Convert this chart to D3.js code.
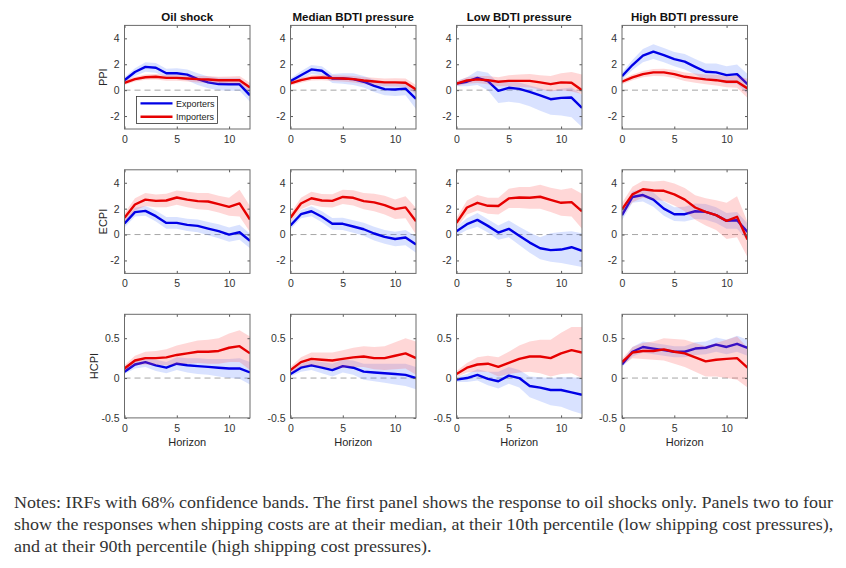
<!DOCTYPE html>
<html>

<head>
  <meta charset='utf-8'>
  <style>
    body { margin: 0; background: #fff; }
    text { font-family: 'Liberation Sans', Arial, sans-serif; }
  </style>
  <script src='https://cdn.jsdelivr.net/npm/d3@7'></script>
</head>

<body>

  <script>

    let [width, height] = [846, 568]

    // horizons and panel labels
    const horizon = [0, 1, 2, 3, 4, 5, 6, 7, 8, 9, 10, 11, 12]
    const titles = ['Oil shock', 'Median BDTI pressure', 'Low BDTI pressure', 'High BDTI pressure']
    const rowLabels = ['PPI', 'ECPI', 'HCPI']
    const xTicks = [0, 5, 10]
    const yTicksBig = [-2, 0, 2, 4]
    const yTicksSmall = [-0.5, 0, 0.5]
    const legendLabels = ['Exporters', 'Importers']

    // ---- PPI ----
    const ppiOilExp = [0.77, 1.4, 1.8, 1.73, 1.3, 1.3, 1.2, 0.85, 0.6, 0.47, 0.45, 0.45, -0.4]
    const ppiOilExpLo = [0.55, 1.1, 1.42, 1.35, 0.95, 0.9, 0.75, 0.4, 0.15, 0.0, -0.05, -0.05, -0.9]
    const ppiOilExpHi = [1.0, 1.7, 2.15, 2.1, 1.65, 1.7, 1.6, 1.3, 1.05, 0.95, 0.95, 0.95, 0.1]
    const ppiOilImp = [0.57, 0.85, 1.0, 1.03, 0.95, 0.95, 0.9, 0.85, 0.82, 0.77, 0.77, 0.77, 0.2]
    const ppiOilImpLo = [0.4, 0.67, 0.8, 0.82, 0.73, 0.72, 0.66, 0.6, 0.55, 0.5, 0.48, 0.45, -0.15]
    const ppiOilImpHi = [0.74, 1.03, 1.2, 1.24, 1.17, 1.18, 1.14, 1.1, 1.09, 1.04, 1.06, 1.09, 0.55]

    const ppiMedExp = [0.7, 1.15, 1.6, 1.5, 0.9, 0.9, 0.85, 0.65, 0.33, 0.08, 0.05, 0.12, -0.67]
    const ppiMedExpLo = [0.5, 0.85, 1.25, 1.15, 0.55, 0.5, 0.4, 0.2, -0.15, -0.4, -0.45, -0.4, -1.45]
    const ppiMedExpHi = [0.9, 1.45, 1.95, 1.85, 1.25, 1.3, 1.3, 1.1, 0.8, 0.55, 0.55, 0.65, 0.1]
    const ppiMedImp = [0.52, 0.77, 0.95, 0.98, 0.93, 0.9, 0.85, 0.75, 0.67, 0.6, 0.6, 0.57, 0.05]
    const ppiMedImpLo = [0.35, 0.58, 0.75, 0.77, 0.7, 0.66, 0.6, 0.48, 0.38, 0.3, 0.28, 0.24, -0.3]
    const ppiMedImpHi = [0.69, 0.96, 1.15, 1.19, 1.16, 1.14, 1.1, 1.02, 0.96, 0.9, 0.92, 0.9, 0.4]

    const ppiLowExp = [0.5, 0.65, 0.95, 0.7, -0.05, 0.18, 0.1, -0.13, -0.4, -0.7, -0.6, -0.57, -1.37]
    const ppiLowExpLo = [0.3, 0.3, 0.4, 0.0, -1.0, -0.9, -1.0, -1.25, -1.6, -1.9, -1.95, -2.1, -2.85]
    const ppiLowExpHi = [0.7, 1.0, 1.5, 1.35, 0.55, 0.7, 0.6, 0.35, 0.15, -0.05, 0.1, 0.2, -0.35]
    const ppiLowImp = [0.5, 0.75, 0.83, 0.77, 0.65, 0.72, 0.72, 0.72, 0.6, 0.47, 0.6, 0.57, 0.0]
    const ppiLowImpLo = [0.32, 0.5, 0.55, 0.45, 0.3, 0.3, 0.25, 0.2, 0.05, -0.1, 0.0, -0.1, -0.3]
    const ppiLowImpHi = [0.68, 1.0, 1.1, 1.1, 1.0, 1.15, 1.2, 1.25, 1.15, 1.1, 1.3, 1.4, 1.2]

    const ppiHighExp = [1.08, 1.94, 2.66, 2.97, 2.7, 2.4, 2.2, 1.8, 1.42, 1.37, 1.16, 1.24, 0.46]
    const ppiHighExpLo = [0.8, 1.55, 2.15, 2.4, 2.15, 1.85, 1.6, 1.2, 0.8, 0.7, 0.5, 0.5, -0.3]
    const ppiHighExpHi = [1.36, 2.33, 3.17, 3.55, 3.25, 2.95, 2.8, 2.4, 2.05, 2.05, 1.85, 1.98, 1.25]
    const ppiHighImp = [0.65, 0.98, 1.24, 1.37, 1.37, 1.24, 1.03, 0.93, 0.83, 0.77, 0.65, 0.65, 0.13]
    const ppiHighImpLo = [0.45, 0.76, 1.0, 1.1, 1.08, 0.93, 0.7, 0.58, 0.45, 0.36, 0.22, 0.18, -0.6]
    const ppiHighImpHi = [0.85, 1.2, 1.48, 1.64, 1.66, 1.55, 1.36, 1.28, 1.21, 1.18, 1.08, 1.12, 0.86]

    // ---- ECPI ----
    const ecpiOilExp = [0.85, 1.73, 1.83, 1.42, 0.9, 0.9, 0.75, 0.67, 0.46, 0.26, 0.0, 0.18, -0.49]
    const ecpiOilExpLo = [0.55, 1.4, 1.45, 1.0, 0.45, 0.45, 0.28, 0.18, -0.05, -0.28, -0.55, -0.4, -1.05]
    const ecpiOilExpHi = [1.15, 2.06, 2.2, 1.85, 1.35, 1.35, 1.22, 1.16, 0.97, 0.8, 0.55, 0.76, 0.07]
    const ecpiOilImp = [1.3, 2.32, 2.7, 2.6, 2.63, 2.86, 2.7, 2.58, 2.55, 2.35, 2.14, 2.4, 1.16]
    const ecpiOilImpLo = [0.95, 1.85, 2.2, 2.1, 2.1, 2.3, 2.1, 1.95, 1.9, 1.7, 1.45, 1.4, 0.2]
    const ecpiOilImpHi = [1.65, 2.8, 3.2, 3.1, 3.15, 3.4, 3.3, 3.2, 3.2, 3.0, 2.85, 3.45, 2.2]

    const ecpiMedExp = [0.7, 1.57, 1.8, 1.37, 0.83, 0.83, 0.62, 0.41, 0.08, -0.18, -0.34, -0.23, -0.77]
    const ecpiMedExpLo = [0.4, 1.25, 1.42, 0.95, 0.38, 0.35, 0.13, -0.1, -0.45, -0.72, -0.9, -0.82, -1.4]
    const ecpiMedExpHi = [1.0, 1.9, 2.18, 1.8, 1.28, 1.3, 1.1, 0.92, 0.6, 0.36, 0.22, 0.36, -0.15]
    const ecpiMedImp = [1.3, 2.4, 2.8, 2.63, 2.6, 2.9, 2.84, 2.58, 2.48, 2.27, 1.96, 2.1, 1.03]
    const ecpiMedImpLo = [0.95, 1.95, 2.3, 2.13, 2.08, 2.35, 2.25, 1.95, 1.8, 1.55, 1.2, 1.25, 0.0]
    const ecpiMedImpHi = [1.65, 2.85, 3.3, 3.13, 3.12, 3.45, 3.43, 3.2, 3.15, 3.0, 2.7, 2.95, 2.05]

    const ecpiLowExp = [0.25, 0.8, 1.13, 0.67, 0.15, 0.44, -0.1, -0.62, -1.06, -1.2, -1.16, -0.98, -1.26]
    const ecpiLowExpLo = [-0.1, 0.35, 0.6, 0.15, -0.4, -0.2, -0.8, -1.4, -1.9, -2.1, -2.2, -2.35, -2.5]
    const ecpiLowExpHi = [0.6, 1.25, 1.66, 1.19, 0.7, 1.08, 0.6, 0.16, -0.2, 0.1, 0.2, 0.25, 0.1]
    const ecpiLowImp = [0.9, 2.09, 2.45, 2.22, 2.2, 2.79, 2.86, 2.84, 2.92, 2.68, 2.45, 2.5, 1.8]
    const ecpiLowImpLo = [0.5, 1.55, 1.85, 1.6, 1.55, 2.05, 2.05, 2.0, 2.0, 1.75, 1.45, 1.4, 0.45]
    const ecpiLowImpHi = [1.3, 2.63, 3.05, 2.84, 2.85, 3.53, 3.67, 3.68, 3.84, 3.61, 3.45, 3.6, 3.15]

    const ecpiHighExp = [1.5, 2.9, 3.05, 2.7, 2.0, 1.57, 1.57, 1.8, 1.75, 1.5, 1.06, 1.1, 0.2]
    const ecpiHighExpLo = [1.1, 2.45, 2.55, 2.15, 1.45, 1.05, 1.0, 1.2, 1.15, 0.9, 0.45, 0.45, -0.45]
    const ecpiHighExpHi = [1.9, 3.35, 3.55, 3.25, 2.55, 2.1, 2.15, 2.4, 2.35, 2.1, 1.67, 1.75, 0.85]
    const ecpiHighImp = [1.94, 3.1, 3.5, 3.4, 3.38, 3.1, 2.7, 2.09, 1.75, 1.5, 1.06, 1.37, -0.39]
    const ecpiHighImpLo = [1.45, 2.5, 2.85, 2.7, 2.6, 2.25, 1.8, 1.15, 0.7, 0.35, -0.35, -0.2, -1.75]
    const ecpiHighImpHi = [2.43, 3.7, 4.15, 4.1, 4.15, 3.95, 3.6, 3.03, 2.8, 2.65, 2.45, 2.95, 0.97]

    // ---- HCPI ----
    const hcpiOilExp = [0.08, 0.17, 0.2, 0.16, 0.13, 0.18, 0.16, 0.15, 0.14, 0.13, 0.12, 0.12, 0.07]
    const hcpiOilExpLo = [0.05, 0.12, 0.14, 0.09, 0.06, 0.1, 0.07, 0.05, 0.04, 0.02, 0.0, -0.01, -0.08]
    const hcpiOilExpHi = [0.11, 0.22, 0.26, 0.23, 0.2, 0.26, 0.25, 0.25, 0.24, 0.24, 0.24, 0.25, 0.2]
    const hcpiOilImp = [0.12, 0.22, 0.25, 0.25, 0.26, 0.29, 0.31, 0.33, 0.33, 0.34, 0.38, 0.4, 0.31]
    const hcpiOilImpLo = [0.08, 0.16, 0.17, 0.16, 0.16, 0.17, 0.18, 0.19, 0.18, 0.18, 0.2, 0.2, 0.1]
    const hcpiOilImpHi = [0.16, 0.28, 0.33, 0.34, 0.36, 0.41, 0.44, 0.47, 0.48, 0.5, 0.56, 0.6, 0.52]

    const hcpiMedExp = [0.05, 0.13, 0.16, 0.13, 0.1, 0.15, 0.13, 0.08, 0.07, 0.06, 0.05, 0.04, 0.0]
    const hcpiMedExpLo = [0.02, 0.08, 0.1, 0.06, 0.02, 0.07, 0.04, -0.02, -0.04, -0.06, -0.08, -0.1, -0.14]
    const hcpiMedExpHi = [0.08, 0.18, 0.22, 0.2, 0.18, 0.23, 0.22, 0.18, 0.18, 0.18, 0.18, 0.18, 0.14]
    const hcpiMedImp = [0.1, 0.2, 0.24, 0.23, 0.22, 0.24, 0.26, 0.27, 0.25, 0.25, 0.28, 0.31, 0.25]
    const hcpiMedImpLo = [0.06, 0.14, 0.16, 0.14, 0.12, 0.13, 0.14, 0.14, 0.11, 0.1, 0.11, 0.12, 0.04]
    const hcpiMedImpHi = [0.14, 0.26, 0.32, 0.32, 0.32, 0.35, 0.38, 0.4, 0.39, 0.4, 0.45, 0.5, 0.46]

    const hcpiLowExp = [-0.02, 0.0, 0.04, -0.01, -0.04, 0.03, 0.0, -0.1, -0.12, -0.15, -0.15, -0.18, -0.21]
    const hcpiLowExpLo = [-0.05, -0.05, -0.03, -0.09, -0.13, -0.07, -0.12, -0.24, -0.29, -0.34, -0.36, -0.41, -0.45]
    const hcpiLowExpHi = [0.01, 0.05, 0.11, 0.08, 0.08, 0.14, 0.1, 0.02, 0.01, 0.0, 0.01, 0.01, 0.0]
    const hcpiLowImp = [0.05, 0.13, 0.17, 0.18, 0.14, 0.19, 0.24, 0.27, 0.27, 0.25, 0.31, 0.35, 0.32]
    const hcpiLowImpLo = [0.01, 0.07, 0.08, 0.08, 0.02, 0.05, 0.07, 0.08, 0.06, 0.02, 0.05, 0.06, 0.0]
    const hcpiLowImpHi = [0.09, 0.19, 0.26, 0.28, 0.26, 0.33, 0.41, 0.46, 0.48, 0.48, 0.57, 0.64, 0.64]

    const hcpiHighExp = [0.17, 0.33, 0.39, 0.37, 0.35, 0.33, 0.33, 0.37, 0.38, 0.42, 0.39, 0.43, 0.38]
    const hcpiHighExpLo = [0.14, 0.27, 0.32, 0.3, 0.28, 0.26, 0.26, 0.29, 0.3, 0.33, 0.3, 0.33, 0.28]
    const hcpiHighExpHi = [0.2, 0.39, 0.46, 0.44, 0.42, 0.4, 0.4, 0.45, 0.46, 0.51, 0.48, 0.53, 0.48]
    const hcpiHighImp = [0.2, 0.32, 0.34, 0.34, 0.36, 0.33, 0.31, 0.26, 0.21, 0.23, 0.24, 0.25, 0.13]
    const hcpiHighImpLo = [0.16, 0.25, 0.24, 0.23, 0.22, 0.18, 0.14, 0.08, 0.02, 0.02, 0.0, -0.02, -0.12]
    const hcpiHighImpHi = [0.24, 0.39, 0.44, 0.46, 0.5, 0.49, 0.48, 0.44, 0.4, 0.44, 0.48, 0.52, 0.38]

    const notes = [
      'Notes: IRFs with 68% confidence bands. The first panel shows the response to oil shocks only. Panels two to four',
      'show the responses when shipping costs are at their median, at their 10th percentile (low shipping cost pressures),',
      'and at their 90th percentile (high shipping cost pressures).'
    ]

    // panel table built from the arrays above
    let rows = [
      {
        domain: [-3, 5], ticks: yTicksBig, panels: [
          [[ppiOilExpLo, ppiOilExp, ppiOilExpHi], [ppiOilImpLo, ppiOilImp, ppiOilImpHi]],
          [[ppiMedExpLo, ppiMedExp, ppiMedExpHi], [ppiMedImpLo, ppiMedImp, ppiMedImpHi]],
          [[ppiLowExpLo, ppiLowExp, ppiLowExpHi], [ppiLowImpLo, ppiLowImp, ppiLowImpHi]],
          [[ppiHighExpLo, ppiHighExp, ppiHighExpHi], [ppiHighImpLo, ppiHighImp, ppiHighImpHi]]
        ]
      },
      {
        domain: [-3, 5], ticks: yTicksBig, panels: [
          [[ecpiOilExpLo, ecpiOilExp, ecpiOilExpHi], [ecpiOilImpLo, ecpiOilImp, ecpiOilImpHi]],
          [[ecpiMedExpLo, ecpiMedExp, ecpiMedExpHi], [ecpiMedImpLo, ecpiMedImp, ecpiMedImpHi]],
          [[ecpiLowExpLo, ecpiLowExp, ecpiLowExpHi], [ecpiLowImpLo, ecpiLowImp, ecpiLowImpHi]],
          [[ecpiHighExpLo, ecpiHighExp, ecpiHighExpHi], [ecpiHighImpLo, ecpiHighImp, ecpiHighImpHi]]
        ]
      },
      {
        domain: [-0.5, 0.8], ticks: yTicksSmall, panels: [
          [[hcpiOilExpLo, hcpiOilExp, hcpiOilExpHi], [hcpiOilImpLo, hcpiOilImp, hcpiOilImpHi]],
          [[hcpiMedExpLo, hcpiMedExp, hcpiMedExpHi], [hcpiMedImpLo, hcpiMedImp, hcpiMedImpHi]],
          [[hcpiLowExpLo, hcpiLowExp, hcpiLowExpHi], [hcpiLowImpLo, hcpiLowImp, hcpiLowImpHi]],
          [[hcpiHighExpLo, hcpiHighExp, hcpiHighExpHi], [hcpiHighImpLo, hcpiHighImp, hcpiHighImpHi]]
        ]
      }
    ]

    let colX = [124.5, 290.5, 456.5, 622]
    let rowY = [25.4, 169.8, 314.3]
    let pw = 125.5, ph = 103.6
    let lineColor = ['#0000e6', '#e60000']
    let bandColor = ['#3f6fff', '#ff4a4a']
    let bandOpacity = [0.2, 0.22]

    let svg = d3.select('body')
      .append('svg')
      .attr('width', width)
      .attr('height', height)
      .style('background', '#fff')

    let x = d3.scaleLinear([0, 12], [0, pw])

    rows.forEach((row, ri) => {
      let y = d3.scaleLinear(row.domain, [ph, 0])
      let area = d3.area().x((d, i) => x(horizon[i])).y0(d => y(d[0])).y1(d => y(d[1]))
      let line = d3.line().x((d, i) => x(horizon[i])).y(d => y(d))

      row.panels.forEach((panel, ci) => {
        let g = svg.append('g').attr('transform', `translate(${colX[ci]},${rowY[ri]})`)

        g.append('defs').append('clipPath').attr('id', `clip${ri}${ci}`)
          .append('rect').attr('width', pw).attr('height', ph)

        let plot = g.append('g').attr('clip-path', `url(#clip${ri}${ci})`)

        // zero line
        plot.append('line')
          .attr('x1', 0).attr('x2', pw)
          .attr('y1', y(0)).attr('y2', y(0))
          .attr('stroke', '#a6a6a6').attr('stroke-width', 1)
          .attr('stroke-dasharray', '6,4')

        // exporters first, importers band drawn over the exporters line
        panel.forEach(([lo, mid, hi], si) => {
          plot.append('path')
            .attr('d', area(lo.map((v, i) => [v, hi[i]])))
            .attr('fill', bandColor[si])
            .attr('fill-opacity', bandOpacity[si])
          plot.append('path')
            .attr('d', line(mid))
            .attr('fill', 'none')
            .attr('stroke', lineColor[si])
            .attr('stroke-width', 2.4)
            .attr('stroke-linejoin', 'round')
        })

        // axes, MATLAB style with inward ticks on all four sides
        let styleAxis = a => a
          .call(a => a.select('.domain').remove())
          .call(a => a.selectAll('line').attr('stroke', '#5a5a5a'))
          .call(a => a.selectAll('text').attr('fill', '#333').attr('font-size', 10.5))

        g.append('g').attr('transform', `translate(0,${ph})`)
          .call(d3.axisBottom(x).tickValues(xTicks).tickSize(-2.5).tickPadding(6.5).tickFormat(d3.format('d')))
          .call(styleAxis)
        g.append('g')
          .call(d3.axisTop(x).tickValues(xTicks).tickSize(-2.5).tickFormat(''))
          .call(styleAxis)
        g.append('g')
          .call(d3.axisLeft(y).tickValues(row.ticks).tickSize(-2.5).tickPadding(5).tickFormat(d => d))
          .call(styleAxis)
        g.append('g').attr('transform', `translate(${pw},0)`)
          .call(d3.axisRight(y).tickValues(row.ticks).tickSize(-2.5).tickFormat(''))
          .call(styleAxis)

        g.append('rect')
          .attr('width', pw).attr('height', ph)
          .attr('fill', 'none').attr('stroke', '#6b6b6b').attr('stroke-width', 1)

        if (ri == 0) {
          g.append('text')
            .attr('x', pw / 2).attr('y', -4.5)
            .attr('text-anchor', 'middle')
            .attr('font-size', 11.5).attr('font-weight', 'bold')
            .attr('fill', '#111')
            .text(titles[ci])
        }
        if (ri == 2) {
          g.append('text')
            .attr('x', pw / 2).attr('y', ph + 28)
            .attr('text-anchor', 'middle')
            .attr('font-size', 11).attr('fill', '#262626')
            .text('Horizon')
        }
        if (ci == 0) {
          g.append('text')
            .attr('transform', `translate(${ri == 2 ? -27 : -18},${ph / 2}) rotate(-90)`)
            .attr('text-anchor', 'middle')
            .attr('font-size', 11).attr('fill', '#262626')
            .text(rowLabels[ri])
        }

        // legend in the first panel
        if (ri == 0 && ci == 0) {
          let lg = g.append('g').attr('transform', 'translate(12,71)')
          lg.append('rect')
            .attr('width', 81).attr('height', 27)
            .attr('fill', '#fff').attr('stroke', '#333').attr('stroke-width', 0.8)
          legendLabels.forEach((name, i) => {
            lg.append('line')
              .attr('x1', 4).attr('x2', 36)
              .attr('y1', 7 + i * 13.3).attr('y2', 7 + i * 13.3)
              .attr('stroke', lineColor[i]).attr('stroke-width', 2.4)
            lg.append('text')
              .attr('x', 39.5).attr('y', 7 + i * 13.3).attr('dy', '0.35em')
              .attr('font-size', 9).attr('fill', '#222')
              .text(name)
          })
        }
      })
    })

    // notes below the figure; the source font is wider than Liberation Serif,
    // so each line is stretched a little to the same run length
    svg.append('g')
      .selectAll('text')
      .data(notes)
      .join('text')
      .attr('x', 14)
      .attr('y', (d, i) => 507.5 + i * 22)
      .style('font-family', "'Liberation Serif', 'DejaVu Serif', serif")
      .attr('font-size', 16)
      .attr('fill', '#333')
      .text(d => d)
      .each(function () {
        let len = this.getComputedTextLength()
        d3.select(this)
          .attr('textLength', len * 1.125)
          .attr('lengthAdjust', 'spacingAndGlyphs')
      })
  </script>
</body>

</html>
